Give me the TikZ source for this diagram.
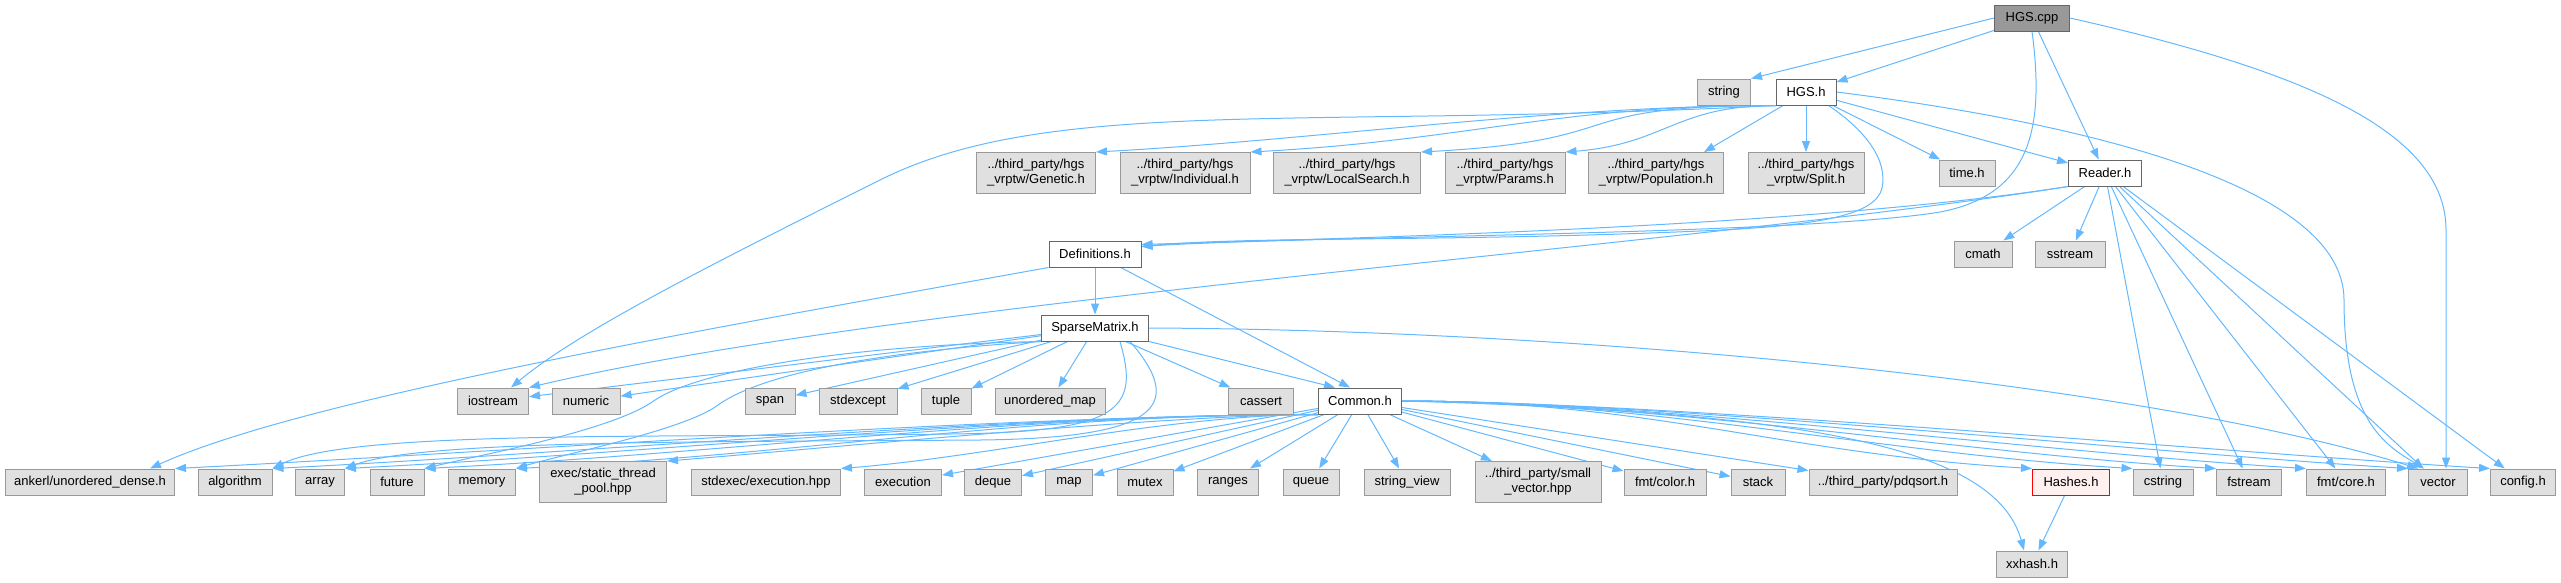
\documentclass[tikz,border=0pt]{standalone}
\usepackage{fontspec}
\setmainfont{Liberation Sans}
\usetikzlibrary{arrows.meta}

\pgfdeclarelayer{edges}
\pgfsetlayers{edges,main}

\begin{document}
\begin{tikzpicture}[x=1pt, y=-1pt,
  box/.style={draw, line width=1pt, minimum height=26pt, inner sep=2pt, align=center, text=black, font=\fontsize{13}{15}\selectfont},
  hdr/.style={box, draw=hdrBorder, fill=hdrFill},
  hdrtwo/.style={hdr, minimum height=41pt},
  own/.style={box, draw=ownBorder, fill=white},
  root/.style={box, draw=ownBorder, fill=rootFill},
  missing/.style={box, draw=red, fill=missFill},
  dep/.style={draw=edgeBlue, line width=1pt, -{Triangle[length=11pt,width=8pt]}}]

\definecolor{hdrFill}{HTML}{E0E0E0}
\definecolor{hdrBorder}{HTML}{999999}
\definecolor{ownBorder}{HTML}{666666}
\definecolor{rootFill}{HTML}{999999}
\definecolor{missFill}{HTML}{FFF0F0}
\definecolor{edgeBlue}{HTML}{63B8FF}

\useasboundingbox (0,0) rectangle (2561,582);

% Top: the source file and its direct includes
\node[root, minimum width=75pt] (hgscpp) at (2032,18) {HGS.cpp};
\node[hdr, minimum width=53pt] (string) at (1724,92) {string};
\node[own, minimum width=60pt] (hgsh) at (1806,92) {HGS.h};

% Headers pulled in by HGS.h
\node[hdrtwo, minimum width=119pt] (genetic) at (1036,173) {../third\_party/hgs\\\_vrptw/Genetic.h};
\node[hdrtwo, minimum width=130pt] (individual) at (1185,173) {../third\_party/hgs\\\_vrptw/Individual.h};
\node[hdrtwo, minimum width=147pt] (localsearch) at (1347,173) {../third\_party/hgs\\\_vrptw/LocalSearch.h};
\node[hdrtwo, minimum width=120pt] (params) at (1505,173) {../third\_party/hgs\\\_vrptw/Params.h};
\node[hdrtwo, minimum width=135pt] (population) at (1656,173) {../third\_party/hgs\\\_vrptw/Population.h};
\node[hdrtwo, minimum width=116pt] (split) at (1806,173) {../third\_party/hgs\\\_vrptw/Split.h};
\node[hdr, minimum width=56pt] (timeh) at (1967,173) {time.h};
\node[own, minimum width=73pt] (reader) at (2105,173) {Reader.h};

% Middle rows
\node[own, minimum width=92pt] (defs) at (1095,254) {Definitions.h};
\node[hdr, minimum width=58pt] (cmath) at (1983,254) {cmath};
\node[hdr, minimum width=70pt] (sstream) at (2070,254) {sstream};
\node[own, minimum width=107pt] (sparse) at (1095,328) {SparseMatrix.h};

\node[hdr, minimum width=71pt] (iostream) at (493,401) {iostream};
\node[hdr, minimum width=68pt] (numeric) at (586,401) {numeric};
\node[hdr, minimum width=50pt] (span) at (770,401) {span};
\node[hdr, minimum width=78pt] (stdexcept) at (858,401) {stdexcept};
\node[hdr, minimum width=50pt] (tuple) at (946,401) {tuple};
\node[hdr, minimum width=110pt] (umap) at (1050,401) {unordered\_map};
\node[hdr, minimum width=65pt] (cassert) at (1261,401) {cassert};
\node[own, minimum width=83pt] (common) at (1360,401) {Common.h};

% Bottom row
\node[hdr, minimum width=169pt] (ankerl) at (90,482) {ankerl/unordered\_dense.h};
\node[hdr, minimum width=74pt] (algorithm) at (235,482) {algorithm};
\node[hdr, minimum width=49pt] (array) at (320,482) {array};
\node[hdr, minimum width=54pt] (future) at (397,482) {future};
\node[hdr, minimum width=67pt] (memory) at (482,482) {memory};
\node[hdrtwo, minimum width=127pt] (staticpool) at (603,482) {exec/static\_thread\\\_pool.hpp};
\node[hdr, minimum width=149pt] (stdexec) at (766,482) {stdexec/execution.hpp};
\node[hdr, minimum width=77pt] (execution) at (903,482) {execution};
\node[hdr, minimum width=57pt] (deque) at (993,482) {deque};
\node[hdr, minimum width=47pt] (map) at (1069,482) {map};
\node[hdr, minimum width=56pt] (mutex) at (1145,482) {mutex};
\node[hdr, minimum width=61pt] (ranges) at (1228,482) {ranges};
\node[hdr, minimum width=56pt] (queue) at (1311,482) {queue};
\node[hdr, minimum width=86pt] (stringview) at (1407,482) {string\_view};
\node[hdrtwo, minimum width=126pt] (smallvec) at (1538,482) {../third\_party/small\\\_vector.hpp};
\node[hdr, minimum width=82pt] (fmtcolor) at (1665,482) {fmt/color.h};
\node[hdr, minimum width=54pt] (stack) at (1758,482) {stack};
\node[hdr, minimum width=148pt] (pdqsort) at (1883,482) {../third\_party/pdqsort.h};
\node[missing, minimum width=77pt] (hashes) at (2071,482) {Hashes.h};
\node[hdr, minimum width=60pt] (cstring) at (2163,482) {cstring};
\node[hdr, minimum width=65pt] (fstream) at (2249,482) {fstream};
\node[hdr, minimum width=79pt] (fmtcore) at (2346,482) {fmt/core.h};
\node[hdr, minimum width=59pt] (vector) at (2438,482) {vector};
\node[hdr, minimum width=65pt] (config) at (2523,482) {config.h};
\node[hdr, minimum width=71pt] (xxhash) at (2032,564) {xxhash.h};

\begin{pgfonlayer}{edges}
% Edges out of HGS.cpp
\draw[dep] (hgscpp.west) -- (string.north east);
\draw[dep] (hgscpp) -- (hgsh);
\draw[dep] (hgscpp) -- (reader);
\draw[dep] (hgscpp.south) .. controls (2045,130) and (2030,195) .. (1940,212) .. controls (1800,235) and (1300,236) .. ([yshift=-6pt]defs.north east);
\draw[dep] (hgscpp.east) .. controls (2300,70) and (2446,130) .. (2446,230) -- ([xshift=8pt]vector.north);

% Edges out of HGS.h
\foreach \t in {genetic,individual,localsearch}
  \draw[dep] (hgsh.south west) .. controls ([xshift=-220pt]hgsh.south west) and ([xshift=220pt,yshift=12pt]\t.north east) .. (\t.north east);
\draw[dep] (hgsh.south west) .. controls ([xshift=-100pt]hgsh.south west) and ([xshift=100pt,yshift=8pt]params.north east) .. (params.north east);
\draw[dep] (hgsh) -- ([xshift=-20pt]population.north east);
\draw[dep] (hgsh) -- (split);
\draw[dep] (hgsh) -- (timeh);
\draw[dep] (hgsh) -- (reader);
\draw[dep] ([xshift=-8pt]hgsh.south east) .. controls (1865,130) and (1888,160) .. (1882,188) .. controls (1876,215) and (1820,226) .. (1700,231) .. controls (1450,242) and (1250,236) .. ([yshift=-6pt]defs.north east);
\draw[dep] (hgsh.south west) .. controls (1300,130) and (1050,95) .. (880,180) .. controls (720,260) and (580,330) .. ([xshift=18pt]iostream.north);
\draw[dep] (hgsh.east) .. controls (2060,120) and (2344,180) .. (2344,300) .. controls (2344,420) and (2385,445) .. ([xshift=-14pt]vector.north);

% Edges out of Reader.h
\draw[dep] (reader.south west) .. controls (1800,228) and (1350,238) .. ([yshift=-4pt]defs.north east);
\draw[dep] (reader.south west) .. controls (1700,245) and (900,300) .. (iostream.north east);
\foreach \t in {cmath,sstream,cstring,fstream,fmtcore,vector,config}
  \draw[dep] (reader) -- (\t);

% Edges out of Definitions.h
\draw[dep] (defs) -- (sparse);
\draw[dep] (defs) -- ([xshift=-10pt]common.north);
\draw[dep] (defs.south west) .. controls (700,330) and (300,400) .. ([xshift=60pt]ankerl.north);

% Edges out of SparseMatrix.h
\foreach \t in {iostream,numeric,span,stdexcept,tuple,umap,cassert}
  \draw[dep] (sparse) -- (\t);
\draw[dep] (sparse.south east) -- ([xshift=-25pt]common.north);
\draw[dep] (sparse.east) .. controls (1600,330) and (2150,385) .. ([xshift=-20pt]vector.north);
\draw[dep] (sparse.south west) .. controls (850,345) and (700,370) .. (655,400) .. controls (615,430) and (480,455) .. (future.north east);
\draw[dep] (sparse.south west) .. controls (870,352) and (760,375) .. (718,405) .. controls (685,430) and (560,455) .. (memory.north east);
\draw[dep] ([xshift=25pt]sparse.south) .. controls (1140,410) and (1120,432) .. (950,434) .. controls (650,438) and (350,430) .. (algorithm.north east);
\draw[dep] ([xshift=35pt]sparse.south) .. controls (1190,410) and (1150,438) .. (980,440) .. controls (700,442) and (420,440) .. (array.north east);

% Edges out of Common.h
\foreach \t in {ankerl,algorithm,array,future,memory}
  \draw[dep] (common.south west) .. controls ([xshift=-300pt]common.south west) and ([xshift=300pt,yshift=15pt]\t.north east) .. (\t.north east);
\foreach \t in {staticpool,stdexec}
  \draw[dep] (common.south west) .. controls ([xshift=-150pt]common.south west) and ([xshift=150pt,yshift=12pt]\t.north east) .. (\t.north east);
\foreach \t in {execution,deque,map,mutex,ranges,queue,stringview,smallvec,fmtcolor,stack,pdqsort}
  \draw[dep] (common) -- (\t);
\foreach \t in {hashes,cstring,fstream,fmtcore,vector,config}
  \draw[dep] (common.east) .. controls ([xshift=250pt]common.east) and ([xshift=-250pt,yshift=15pt]\t.north west) .. (\t.north west);
\draw[dep] (common.east) .. controls (1800,412) and (1995,445) .. ([xshift=-8pt]xxhash.north);
\draw[dep] (hashes) -- (xxhash);
\end{pgfonlayer}

\end{tikzpicture}
\end{document}
